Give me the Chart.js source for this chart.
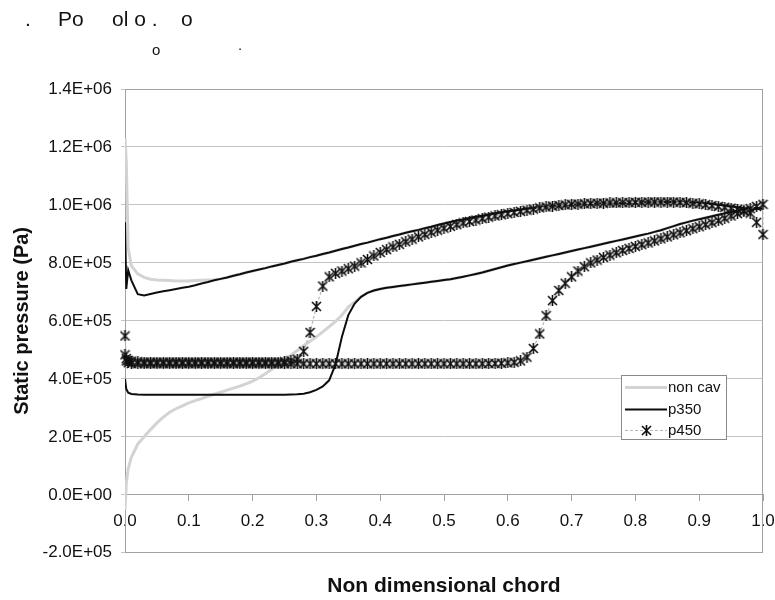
<!DOCTYPE html>
<html>
<head>
<meta charset="utf-8">
<title>Static pressure along the chord</title>
<script src="https://cdn.jsdelivr.net/npm/chart.js@4.4.1/dist/chart.umd.min.js"></script>
<style>
    html, body {
        margin: 0;
        padding: 0;
        background: #fff;
    }

    #wrap {
        position: relative;
        width: 775px;
        height: 600px;
    }

    #wrap canvas {
        position: absolute;
        left: 0;
        top: 0;
    }

    .frag {
        position: absolute;
        font-family: "Liberation Sans", Arial, sans-serif;
        color: #111;
        line-height: 1;
        white-space: pre;
    }
</style>
</head>
<body>
<div id="wrap">
    <canvas id="pressure-chart" width="775" height="600"></canvas>
    <span class="frag" style="left:25px; top:8px; font-size:21px">.</span>
    <span class="frag" style="left:58px; top:8px; font-size:21px">Po</span>
    <span class="frag" style="left:112px; top:8px; font-size:21px">ol o .</span>
    <span class="frag" style="left:181px; top:8px; font-size:21px">o</span>
    <span class="frag" style="left:152px; top:42px; font-size:15px">o</span>
    <span class="frag" style="left:238px; top:37px; font-size:15px">.</span>
</div>

<script>
// chord stations (x / c), shared by every series
const chord = [
    0, 0.002, 0.005,
    0.01, 0.02, 0.03, 0.04, 0.05, 0.06, 0.07, 0.08, 0.09, 0.10,
    0.11, 0.12, 0.13, 0.14, 0.15, 0.16, 0.17, 0.18, 0.19, 0.20,
    0.21, 0.22, 0.23, 0.24, 0.25, 0.26, 0.27, 0.28, 0.29, 0.30,
    0.31, 0.32, 0.33, 0.34, 0.35, 0.36, 0.37, 0.38, 0.39, 0.40,
    0.41, 0.42, 0.43, 0.44, 0.45, 0.46, 0.47, 0.48, 0.49, 0.50,
    0.51, 0.52, 0.53, 0.54, 0.55, 0.56, 0.57, 0.58, 0.59, 0.60,
    0.61, 0.62, 0.63, 0.64, 0.65, 0.66, 0.67, 0.68, 0.69, 0.70,
    0.71, 0.72, 0.73, 0.74, 0.75, 0.76, 0.77, 0.78, 0.79, 0.80,
    0.81, 0.82, 0.83, 0.84, 0.85, 0.86, 0.87, 0.88, 0.89, 0.90,
    0.91, 0.92, 0.93, 0.94, 0.95, 0.96, 0.97, 0.98, 0.99, 1.00,
]

// static pressure in kPa, upper (pressure) side and lower (suction) side

const nonCavUpper = [
    1230, 1150, 850,
    790, 762, 750, 744, 741, 740, 739, 738, 738, 738,
    739, 740, 741, 742, 745, 750, 756, 761, 767, 772,
    777, 782, 788, 793, 798, 804, 809, 814, 820, 825,
    831, 836, 842, 848, 853, 859, 865, 870, 876, 882,
    887, 893, 898, 904, 909, 914, 920, 925, 931, 936,
    941, 946, 950, 955, 959, 963, 967, 971, 975, 978,
    981, 984, 987, 989, 992, 994, 996, 998, 999, 1001,
    1002, 1003, 1004, 1005, 1006, 1006, 1007, 1007, 1008, 1008,
    1009, 1009, 1009, 1010, 1010, 1010, 1009, 1009, 1008, 1007,
    1005, 1003, 1001, 998, 995, 992, 989, 987, 986, 988,
]

const nonCavLower = [
    -52, 40, 90,
    130, 175, 200, 225, 248, 268, 285, 297, 307, 317,
    325, 332, 340, 347, 354, 361, 368, 375, 383, 392,
    404, 418, 433, 449, 466, 482, 498, 514, 530, 545,
    562, 580, 598, 620, 648, 665, 683, 697, 705, 710,
    714, 717, 720, 723, 726, 729, 732, 735, 738, 741,
    744, 748, 752, 757, 762, 767, 773, 779, 785, 791,
    796, 801, 806, 811, 816, 821, 826, 831, 836, 841,
    846, 851, 856, 861, 866, 871, 876, 881, 886, 891,
    896, 901, 907, 913, 920, 927, 934, 940, 946, 951,
    956, 961, 966, 971, 976, 981, 985, 988, 990, 988,
]

const p350Upper = [
    940, 710, 775,
    740, 692, 688, 693, 698, 702, 706, 710, 714, 718,
    723, 729, 734, 740, 745, 750, 756, 761, 767, 772,
    777, 782, 788, 793, 798, 804, 809, 814, 820, 825,
    831, 836, 842, 848, 853, 859, 865, 870, 876, 882,
    887, 893, 898, 904, 909, 914, 920, 925, 931, 936,
    941, 946, 950, 955, 959, 963, 967, 971, 975, 978,
    981, 984, 987, 989, 992, 994, 996, 998, 999, 1001,
    1002, 1003, 1004, 1005, 1006, 1006, 1007, 1007, 1008, 1008,
    1009, 1009, 1009, 1010, 1010, 1010, 1009, 1009, 1008, 1007,
    1005, 1003, 1001, 998, 995, 992, 989, 987, 986, 988,
]

const p350Lower = [
    400, 365, 352,
    348, 346, 345, 345, 345, 345, 345, 345, 345, 345,
    345, 345, 345, 345, 345, 345, 345, 345, 345, 345,
    345, 345, 345, 345, 345, 346, 347, 349, 354, 362,
    374, 395, 450, 545, 620, 660, 683, 697, 705, 710,
    714, 717, 720, 723, 726, 729, 732, 735, 738, 741,
    744, 748, 752, 757, 762, 767, 773, 779, 785, 791,
    796, 801, 806, 811, 816, 821, 826, 831, 836, 841,
    846, 851, 856, 861, 866, 871, 876, 881, 886, 891,
    896, 901, 907, 913, 920, 927, 934, 940, 946, 951,
    956, 961, 966, 971, 976, 981, 985, 988, 990, 988,
]

const p450Upper = [
    548, 470, 464,
    461, 459, 458, 458, 458, 458, 458, 458, 458, 458,
    458, 458, 458, 458, 458, 458, 458, 458, 458, 458,
    458, 458, 458, 458, 459, 462, 468, 495, 560, 650,
    720, 752, 764, 772, 780, 789, 800, 812, 824, 836,
    846, 855, 864, 873, 882, 890, 898, 906, 913, 920,
    926, 932, 938, 943, 948, 953, 958, 962, 966, 970,
    974, 978, 982, 986, 990, 993, 996, 998, 1000, 1002,
    1003, 1004, 1005, 1006, 1006, 1007, 1007, 1008, 1008, 1009,
    1009, 1010, 1010, 1010, 1010, 1010, 1009, 1008, 1006, 1004,
    1001, 998, 995, 992, 989, 985, 980, 972, 940, 898,
]

const p450Lower = [
    483, 462, 456,
    453, 452, 452, 452, 452, 452, 452, 452, 452, 452,
    452, 452, 452, 452, 452, 452, 452, 452, 452, 452,
    452, 452, 452, 452, 452, 452, 452, 452, 452, 452,
    452, 452, 452, 452, 452, 452, 452, 452, 452, 452,
    452, 452, 452, 452, 452, 452, 452, 452, 452, 452,
    452, 452, 452, 452, 452, 452, 453, 453, 454, 455,
    457, 462, 475, 505, 555, 618, 670, 705, 730, 752,
    772, 787, 800, 810, 819, 827, 835, 843, 850, 857,
    863, 869, 876, 883, 890, 897, 904, 911, 918, 925,
    932, 939, 946, 954, 962, 970, 979, 987, 995, 1002,
]

const seriesLabels = ['non cav', 'p350', 'p450']

const chordTicks = [0, 0.1, 0.2, 0.3, 0.4, 0.5, 0.6, 0.7, 0.8, 0.9, 1.0]
const pressureTicks = [-200000, 0, 200000, 400000, 600000, 800000, 1000000, 1200000, 1400000]


const fontFamily = '"Liberation Sans", Arial, sans-serif'
const gridGrey = '#c4c4c4'
const axisGrey = '#a2a2a2'

Chart.defaults.font.family = fontFamily
Chart.defaults.color = '#111'


/**
 * Walks the lower side from leading to trailing edge, then the upper side back.
 * @param {number[]} upper
 * @param {number[]} lower
 * @return {{x: number, y: number}[]}
 */
function surfaceLoop(upper, lower) {
    const lowerPts = chord.map((x, i) => ({x: x, y: lower[i] * 1000}))
    const upperPts = chord.map((x, i) => ({x: x, y: upper[i] * 1000})).reverse()
    return lowerPts.concat(upperPts)
}

/**
 * "1.4E+06" style tick text
 * @param {number} value
 * @return {string}
 */
function sciLabel(value) {
    const [mantissa, exp] = Number(value).toExponential(1).split('e')
    const e = Number(exp)
    return mantissa + 'E' + (e < 0 ? '-' : '+') + String(Math.abs(e)).padStart(2, '0')
}

/**
 * asterisk marker: an X with a vertical stroke
 * @param {number} size
 * @return {HTMLCanvasElement}
 */
function starMarker(size) {
    const c = document.createElement('canvas')
    c.width = size
    c.height = size
    const g = c.getContext('2d')
    const m = size / 2
    const r = size / 2 - 1
    g.strokeStyle = '#101010'
    g.lineWidth = 1.6
    g.beginPath()
    g.moveTo(m - r, m - r)
    g.lineTo(m + r, m + r)
    g.moveTo(m + r, m - r)
    g.lineTo(m - r, m + r)
    g.moveTo(m, 0)
    g.lineTo(m, size)
    g.stroke()
    return c
}

const star = starMarker(11)


// grey frame around the plot area
const plotFrame = {
    id: 'plotFrame',
    beforeDatasetsDraw(chart) {
        const {ctx, chartArea: a} = chart
        ctx.save()
        ctx.strokeStyle = axisGrey
        ctx.lineWidth = 1
        ctx.strokeRect(Math.round(a.left) + 0.5, Math.round(a.top) + 0.5,
            Math.round(a.width) - 1, Math.round(a.height) - 1)
        ctx.restore()
    }
}

// boxed legend sitting inside the plot, lower right
const legendBox = {
    id: 'legendBox',
    afterDraw(chart) {
        const ctx = chart.ctx
        const box = {left: 621, top: 375, width: 106, height: 65}
        ctx.save()
        ctx.fillStyle = '#fff'
        ctx.fillRect(box.left, box.top, box.width, box.height)
        ctx.strokeStyle = '#8a8a8a'
        ctx.lineWidth = 1
        ctx.strokeRect(box.left + 0.5, box.top + 0.5, box.width - 1, box.height - 1)

        ctx.font = '15px ' + fontFamily
        ctx.textBaseline = 'middle'
        ctx.textAlign = 'left'

        chart.data.datasets.forEach((ds, i) => {
            const y = Math.round(box.top + 12 + i * 21.5) + 0.5
            ctx.strokeStyle = ds.borderColor
            ctx.lineWidth = ds.borderWidth
            ctx.setLineDash(ds.borderDash || [])
            ctx.beginPath()
            ctx.moveTo(box.left + 4, y)
            ctx.lineTo(box.left + 46, y)
            ctx.stroke()
            ctx.setLineDash([])
            if (ds.pointStyle instanceof HTMLCanvasElement) {
                ctx.drawImage(ds.pointStyle, Math.round(box.left + 25 - ds.pointStyle.width / 2),
                    Math.round(y - ds.pointStyle.height / 2))
            }
            ctx.fillStyle = '#111'
            ctx.fillText(ds.label, box.left + 47, y + 0.5)
        })
        ctx.restore()
    }
}


const chart = new Chart(document.getElementById('pressure-chart'), {
    type: 'scatter',
    data: {
        datasets: [
            {
                label: seriesLabels[0],
                data: surfaceLoop(nonCavUpper, nonCavLower),
                showLine: true,
                borderColor: '#d3d3d3',
                borderWidth: 3,
                pointRadius: 0,
                order: 2,
            },
            {
                label: seriesLabels[1],
                data: surfaceLoop(p350Upper, p350Lower),
                showLine: true,
                borderColor: '#0d0d0d',
                borderWidth: 2,
                pointRadius: 0,
                order: 1,
            },
            {
                label: seriesLabels[2],
                data: surfaceLoop(p450Upper, p450Lower),
                showLine: true,
                borderColor: '#b8b8b8',
                borderWidth: 1.2,
                borderDash: [3, 2],
                pointStyle: star,
                pointRadius: 4,
                clip: false,
                order: 0,
            },
        ]
    },
    options: {
        responsive: false,
        animation: false,
        devicePixelRatio: 1,
        layout: {
            padding: {top: 89, right: 0, bottom: 0, left: 0}
        },
        plugins: {
            legend: {display: false},
            tooltip: {enabled: false},
            title: {
                display: true,
                position: 'bottom',
                fullSize: false,
                text: 'Non dimensional chord',
                color: '#111',
                font: {size: 21, weight: 'bold'},
                padding: {top: 21, bottom: 1},
            },
        },
        scales: {
            x: {
                type: 'linear',
                min: 0,
                max: 1,
                position: {y: 0},
                afterBuildTicks: scale => {
                    scale.ticks = chordTicks.map(v => ({value: v}))
                },
                afterFit: scale => {
                    // only leave room for half of the "1.0" label on the right
                    scale.paddingLeft = 0
                    scale.paddingRight = 12
                },
                ticks: {
                    callback: v => Number(v).toFixed(1),
                    font: {size: 17},
                    color: '#111',
                    padding: 10,
                    maxRotation: 0,
                    autoSkip: false,
                },
                grid: {
                    drawOnChartArea: false,
                    drawTicks: true,
                    tickLength: 6,
                    color: axisGrey,
                },
                border: {color: axisGrey, width: 1},
            },
            y: {
                type: 'linear',
                min: -200000,
                max: 1400000,
                afterBuildTicks: scale => {
                    scale.ticks = pressureTicks.map(v => ({value: v}))
                },
                afterFit: scale => {
                    scale.width = 125
                },
                ticks: {
                    callback: v => sciLabel(v),
                    font: {size: 17},
                    color: '#111',
                    padding: 9,
                },
                grid: {
                    color: gridGrey,
                    tickLength: 4,
                },
                border: {color: axisGrey, width: 1},
                title: {
                    display: true,
                    text: 'Static pressure (Pa)',
                    color: '#111',
                    font: {size: 20, weight: 'bold'},
                    padding: {top: 10, bottom: 0},
                },
            },
        },
    },
    plugins: [plotFrame, legendBox],
})
</script>
</body>
</html>
